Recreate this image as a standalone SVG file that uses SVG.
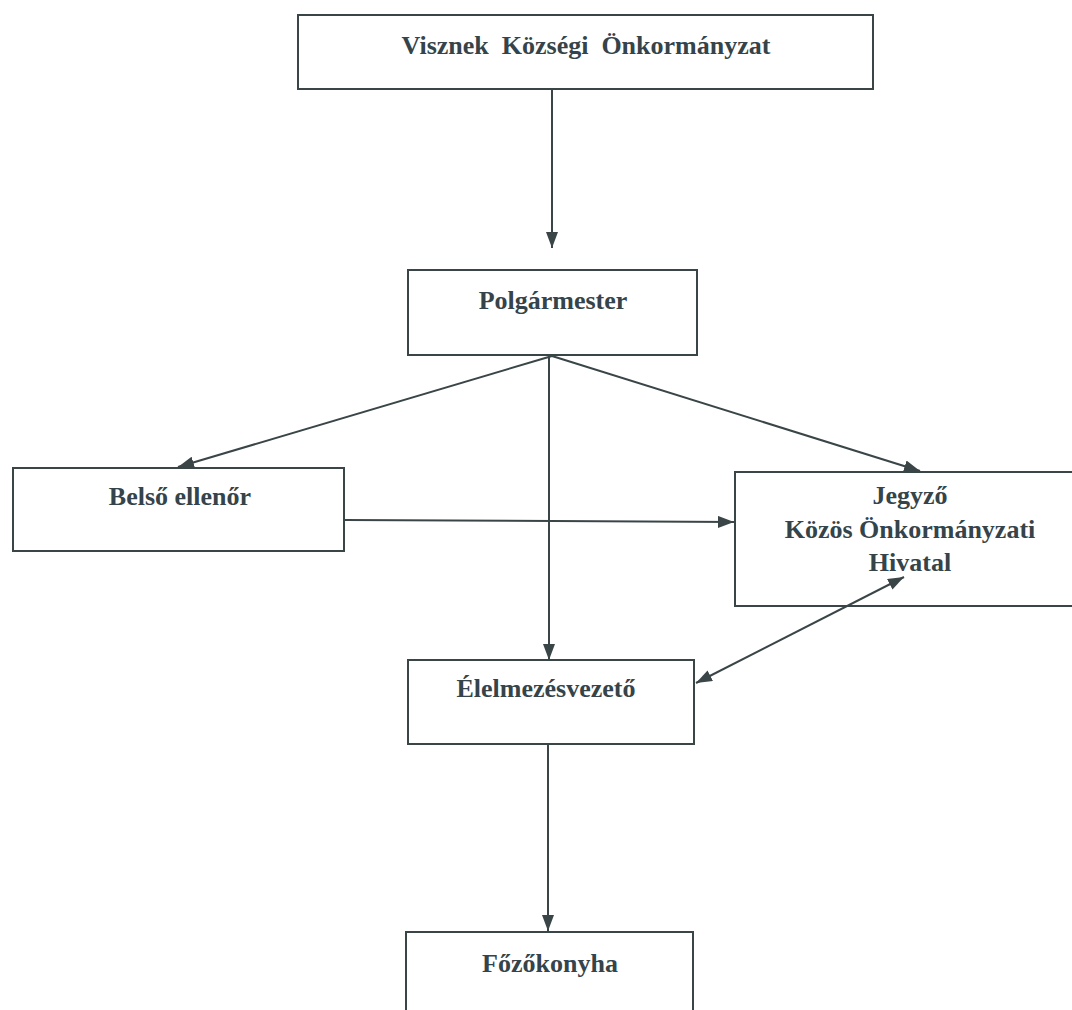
<svg xmlns="http://www.w3.org/2000/svg" width="1072" height="1010" viewBox="0 0 1072 1010">
<defs>
<marker id="ah" viewBox="0 0 16 12" refX="16" refY="6" markerWidth="16" markerHeight="12" markerUnits="userSpaceOnUse" orient="auto-start-reverse">
<path d="M0,0 L16,6 L0,12 z" fill="#3a4548"/>
</marker>
<style>
.box{fill:#fff;stroke:#3a4548;stroke-width:2}
.t{font-family:"Liberation Serif","Times New Roman",serif;font-weight:bold;font-size:26px;fill:#34444a;text-anchor:middle}
.c{stroke:#3a4548;stroke-width:2;fill:none}
</style>
</defs>
<rect width="1072" height="1010" fill="#fff"/>
<g id="n-onkormanyzat">
<rect class="box" x="298" y="15" width="575" height="74"/>
<text class="t" x="586" y="54" style="white-space:pre">Visznek  Községi  Önkormányzat</text>
</g>
<g id="n-polgarmester">
<rect class="box" x="408" y="270" width="289" height="85"/>
<text class="t" x="553" y="309">Polgármester</text>
</g>
<g id="n-belso">
<rect class="box" x="13" y="468" width="331" height="83"/>
<text class="t" x="180" y="505">Belső ellenőr</text>
</g>
<g id="n-jegyzo">
<rect class="box" x="735" y="472" width="345" height="134"/>
<text class="t" x="910" y="504">Jegyző</text>
<text class="t" x="910" y="538">Közös Önkormányzati</text>
<text class="t" x="910" y="571">Hivatal</text>
</g>
<g id="n-elelmezes">
<rect class="box" x="408" y="660" width="286" height="84"/>
<text class="t" x="546" y="697">Élelmezésvezető</text>
</g>
<g id="n-fozokonyha">
<rect class="box" x="406" y="932" width="287" height="100"/>
<text class="t" x="550" y="972">Főzőkonyha</text>
</g>
<g id="connectors">
<line class="c" x1="552" y1="89" x2="552" y2="248" marker-end="url(#ah)"/>
<line class="c" x1="552" y1="356" x2="178" y2="467" marker-end="url(#ah)"/>
<line class="c" x1="552" y1="356" x2="920" y2="471" marker-end="url(#ah)"/>
<line class="c" x1="549" y1="356" x2="549" y2="660" marker-end="url(#ah)"/>
<line class="c" x1="345" y1="520" x2="734" y2="522" marker-end="url(#ah)"/>
<line class="c" x1="696" y1="683" x2="904" y2="577" marker-start="url(#ah)" marker-end="url(#ah)"/>
<line class="c" x1="548" y1="745" x2="548" y2="931" marker-end="url(#ah)"/>
</g>
</svg>
